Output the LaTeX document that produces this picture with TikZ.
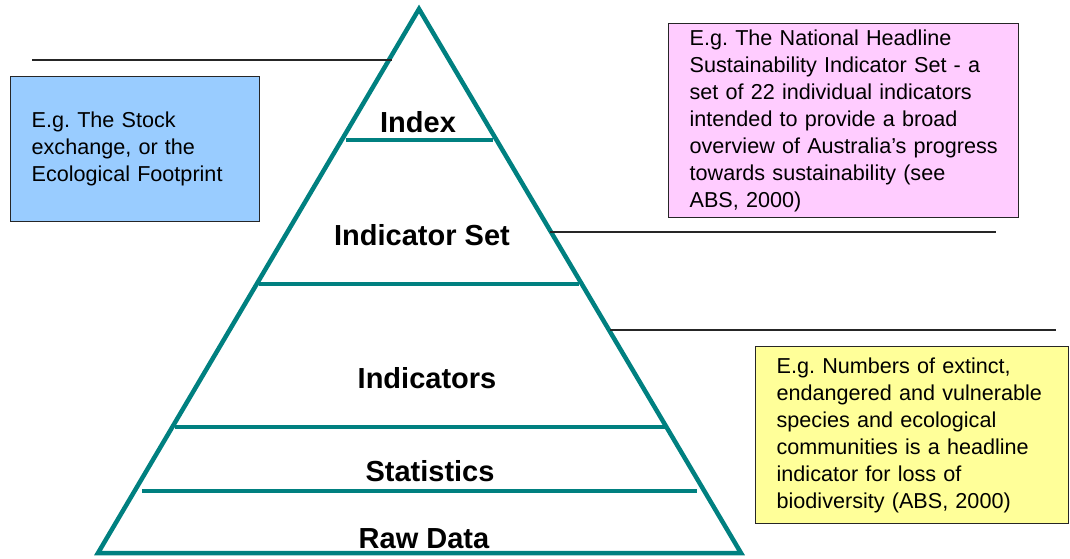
\documentclass[tikz,border=0pt]{standalone}
\usepackage{fontspec}
\setmainfont{Liberation Sans}
\usetikzlibrary{calc}
\frenchspacing
\definecolor{pyrteal}{HTML}{008080}
\definecolor{noteblue}{HTML}{99CCFF}
\definecolor{notepink}{HTML}{FFCCFF}
\definecolor{noteyellow}{HTML}{FFFF99}
\begin{document}
\begin{tikzpicture}[x=1pt,y=-1pt,
  pyrside/.style={draw=pyrteal, line width=4.5pt, line join=miter},
  tier/.style={draw=pyrteal, line width=3.5pt},
  leader/.style={draw=black!85, line width=1.3pt},
  tierlabel/.style={font=\bfseries\fontsize{29}{34}\selectfont, inner sep=0pt, anchor=base},
  note/.style={draw=black!85, line width=1.3pt, anchor=north west, align=left,
    inner xsep=21pt, inner ysep=0pt, font=\fontsize{21.6}{27}\selectfont}]
\useasboundingbox (0,0) rectangle (1070,558);

% pyramid outline
\coordinate (apex) at (419,9);
\coordinate (bl) at (98,553);
\coordinate (br) at (741,553);
\draw[pyrside] (apex) -- (bl) -- (br) -- cycle;

% tier dividers
\coordinate (t1l) at (346,140); \coordinate (t1r) at (493,140);
\coordinate (t2l) at (259,284); \coordinate (t2r) at (579,284);
\coordinate (t3l) at (175,427); \coordinate (t3r) at (665,427);
\coordinate (t4l) at (142,491); \coordinate (t4r) at (697,491);
\draw[tier] (t1l) -- (t1r);
\draw[tier] (t2l) -- (t2r);
\draw[tier] (t3l) -- (t3r);
\draw[tier] (t4l) -- (t4r);

% tier labels
\node[tierlabel] (lindex) at (418,132) {Index};
\node[tierlabel] (lset) at (422,245) {Indicator Set};
\node[tierlabel] (lind) at (427,388) {Indicators};
\node[tierlabel] (lstat) at (430,481) {Statistics};
\node[tierlabel] (lraw) at (424,548) {Raw Data};

% leader lines
\coordinate (a1) at (32,60);   \coordinate (a2) at (392,60);
\coordinate (b1) at (550,232); \coordinate (b2) at (996,232);
\coordinate (c1) at (610,330); \coordinate (c2) at (1056,330);
\draw[leader] (a1) -- (a2);
\draw[leader] (b1) -- (b2);
\draw[leader] (c1) -- (c2);

% example notes (each line kept whole)
\node[note, fill=noteblue, text width=207pt, minimum height=145pt] (nindex) at (10,76)
  {\mbox{E.g. The Stock}\\\mbox{exchange, or the}\\\mbox{Ecological Footprint}};
\node[note, fill=notepink, text width=308pt, minimum height=194pt] (nset) at (668,23)
  {\mbox{E.g. The National Headline}\\\mbox{Sustainability Indicator Set - a}\\\mbox{set of 22 individual indicators}\\\mbox{intended to provide a broad}\\\mbox{overview of Australia’s progress}\\\mbox{towards sustainability (see}\\\mbox{ABS, 2000)}};
\node[note, fill=noteyellow, text width=271pt, minimum height=177pt] (nind) at (755,346)
  {\mbox{E.g. Numbers of extinct,}\\\mbox{endangered and vulnerable}\\\mbox{species and ecological}\\\mbox{communities is a headline}\\\mbox{indicator for loss of}\\\mbox{biodiversity (ABS, 2000)}};
\end{tikzpicture}
\end{document}
